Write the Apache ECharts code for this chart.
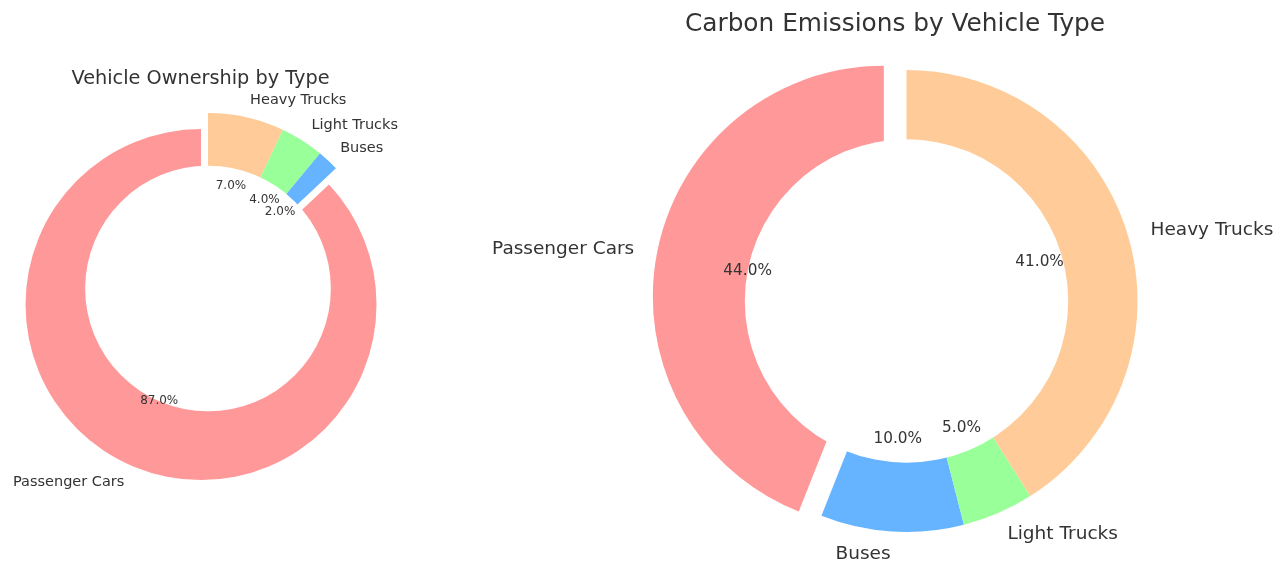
<!DOCTYPE html>
<html>
<head>
<meta charset="utf-8">
<script src="https://cdn.jsdelivr.net/npm/echarts@6/dist/echarts.min.js"></script>
<style>
html,body{margin:0;padding:0;background:#ffffff;}
#chart{width:1279px;height:565px;}
</style>
</head>
<body>
<div id="chart"></div>
<script>
// ---- data ----
const categories = ['Passenger Cars', 'Buses', 'Light Trucks', 'Heavy Trucks'];
const ownershipShares = [87, 2, 4, 7];
const emissionShares = [44, 10, 5, 41];
const sliceColors = ['#ff9999', '#66b3ff', '#99ff99', '#ffcc99'];
const explodedCategory = 'Passenger Cars';
const chartTitles = ['Vehicle Ownership by Type', 'Carbon Emissions by Vehicle Type'];

// ---- styling ----
const FONT = 'DejaVu Sans';
const TEXT = '#333333';

function makeData(values) {
  return categories.map(function (name, i) {
    return {
      name: name,
      value: values[i],
      selected: name === explodedCategory,
      itemStyle: { color: sliceColors[i] }
    };
  });
}

function pctData(values) {
  return categories.map(function (name, i) {
    return { name: name, value: values[i], selected: name === explodedCategory };
  });
}

function donut(values, cx, cy, R, nameSize, pctSize, z) {
  const off = 0.1 * R;
  return [
    {
      type: 'pie', z: z, center: [cx, cy], radius: [0, R],
      startAngle: 90, clockwise: false,
      selectedMode: 'multiple', selectedOffset: off,
      avoidLabelOverlap: false, animation: false, silent: true,
      label: { show: true, position: 'outside', formatter: '{b}',
        fontFamily: FONT, fontSize: nameSize, color: TEXT, distanceToLabelLine: 0 },
      labelLine: { show: false, length: 0.1 * R, length2: 0 },
      itemStyle: { borderWidth: 0 },
      emphasis: { disabled: true },
      data: makeData(values)
    },
    {
      type: 'pie', z: z + 1, center: [cx, cy], radius: [0, 0.7 * R],
      silent: true, animation: false,
      label: { show: false }, labelLine: { show: false },
      itemStyle: { color: '#ffffff', borderWidth: 0 },
      emphasis: { disabled: true },
      data: [{ name: 'hole', value: 1 }]
    },
    {
      type: 'pie', z: z + 2, center: [cx, cy], radius: [0, 1.2 * R - 6],
      startAngle: 90, clockwise: false,
      selectedMode: 'multiple', selectedOffset: off,
      avoidLabelOverlap: false, animation: false, silent: true,
      label: { show: true, position: 'inside',
        formatter: function (p) { return p.value.toFixed(1) + '%'; },
        fontFamily: FONT, fontSize: pctSize, color: TEXT },
      labelLine: { show: false },
      itemStyle: { color: 'rgba(0,0,0,0)', borderWidth: 0 },
      emphasis: { disabled: true },
      data: pctData(values)
    }
  ];
}

const chart = echarts.init(document.getElementById('chart'), null, { renderer: 'canvas' });

const option = {
  backgroundColor: '#ffffff',
  animation: false,
  graphic: [
    { type: 'text', x: 200.5, y: 78.5, silent: true,
      style: { text: chartTitles[0], align: 'center', verticalAlign: 'middle',
        font: '19.3px "DejaVu Sans"', fill: TEXT } },
    { type: 'text', x: 895, y: 24.5, silent: true,
      style: { text: chartTitles[1], align: 'center', verticalAlign: 'middle',
        font: '24.8px "DejaVu Sans"', fill: TEXT } }
  ],
  series: [].concat(
    donut(ownershipShares, 208, 288.5, 175.5, 14.5, 12, 2),
    donut(emissionShares, 906.5, 301, 231, 18.5, 15.3, 2)
  )
};

chart.setOption(option);
</script>
</body>
</html>
